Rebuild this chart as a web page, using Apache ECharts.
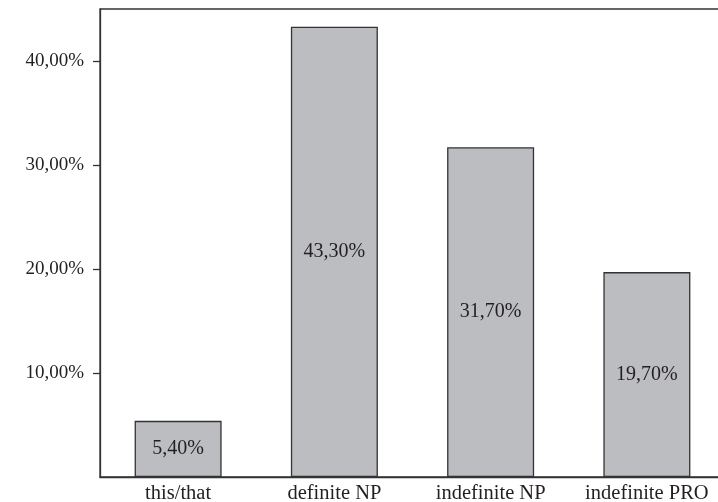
<!DOCTYPE html>
<html>
<head>
<meta charset="utf-8">
<script src="https://cdn.jsdelivr.net/npm/echarts@6/dist/echarts.min.js"></script>
<style>
  html, body { margin: 0; padding: 0; background: #fff; overflow: hidden; }
  #chart { width: 718px; height: 502px; }
</style>
</head>
<body>
<div id="chart"></div>
<script>
// Share of referring expression types (percent)
const categories = ['this/that', 'definite NP', 'indefinite NP', 'indefinite PRO'];
const shares = [5.4, 43.3, 31.7, 19.7];
const yTicks = [10, 20, 30, 40];

const FONT = '"Liberation Serif", "DejaVu Serif", serif';
const INK = '#231f20';
const fmt = v => v.toFixed(2).replace('.', ',') + '%';

const chart = echarts.init(document.getElementById('chart'), null, { renderer: 'canvas' });
chart.setOption({
  animation: false,
  grid: {
    left: 100, right: -7, top: 9, bottom: 25,
    outerBoundsMode: 'none', containLabel: false,
    show: true, borderColor: '#333', borderWidth: 1.3, backgroundColor: 'transparent'
  },
  xAxis: {
    type: 'category',
    data: categories,
    axisLine: { lineStyle: { color: '#333', width: 1.3 } },
    axisTick: { show: false },
    axisLabel: { color: INK, fontFamily: FONT, fontSize: 20.5, margin: 6, interval: 0 }
  },
  yAxis: {
    type: 'value',
    min: 0, max: 45, interval: 10,
    splitLine: { show: false },
    axisLine: { show: true, lineStyle: { color: '#333', width: 1.3 } },
    axisTick: { show: true, length: 7, customValues: yTicks, lineStyle: { color: '#333', width: 1.3 } },
    axisLabel: {
      color: INK, fontFamily: FONT, fontSize: 19, margin: 16,
      customValues: yTicks, formatter: v => fmt(v)
    }
  },
  series: [{
    type: 'bar',
    data: shares,
    barWidth: 87,
    itemStyle: { color: '#bcbdc0', borderColor: '#333', borderWidth: 1.3 },
    label: {
      show: true, position: 'inside',
      color: INK, fontFamily: FONT, fontSize: 20,
      formatter: p => fmt(p.value)
    }
  }]
});
</script>
</body>
</html>
